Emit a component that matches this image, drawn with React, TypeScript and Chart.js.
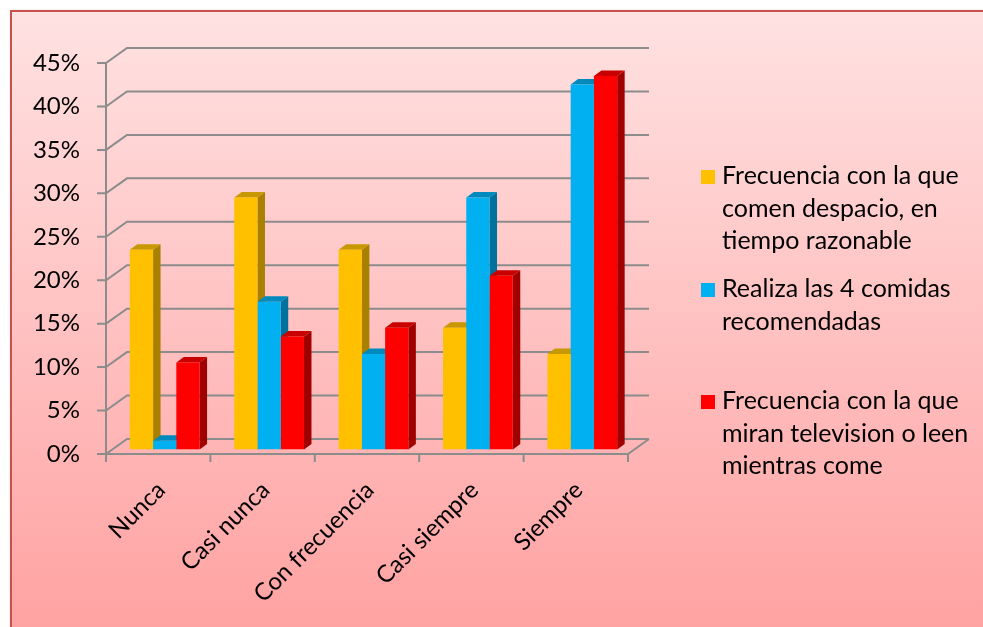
import { useEffect, useRef } from 'react';
import { Chart, registerables } from 'chart.js';

Chart.register(...registerables);

// ---- data ----
const CATEGORIES = ['Nunca', 'Casi nunca', 'Con frecuencia', 'Casi siempre', 'Siempre'];
const COMEN_DESPACIO = [23, 29, 23, 14, 11];
const CUATRO_COMIDAS = [1, 17, 11, 29, 42];
const MIRAN_TV = [10, 13, 14, 20, 43];
const SERIES_NAMES = [
  'Frecuencia con la que comen despacio, en tiempo razonable',
  'Realiza las 4 comidas recomendadas',
  'Frecuencia con la que miran television o leen mientras come',
];
const LEGEND_LINES = [
  ['Frecuencia con la que', 'comen despacio, en', 'tiempo razonable'],
  ['Realiza las 4 comidas', 'recomendadas'],
  ['Frecuencia con la que', 'miran television o leen', 'mientras come'],
];
const Y_MIN = 0;
const Y_MAX = 45;
const Y_STEP = 5;

// ---- styling ----
const FONT = 'Lato, "Open Sans", sans-serif';
const FRONT = ['#FFC000', '#00B0F0', '#FF0000'];
const TOP = ['#C89800', '#0089BC', '#C80000'];
const SIDE = ['#A98000', '#00719C', '#A00000'];
const GRID = '#8C8C8C';

// depth of the back wall relative to the front plane
const WALL_DX = 21;
const WALL_DY = -15;
// where the bars sit inside the depth, and how deep they are
const BAR_DX = 6.5;
const BAR_DY = -4.5;
const BAR_DEPTH_X = 7.5;
const BAR_DEPTH_Y = -5.5;

// legend layout: first-line baselines of each entry
const LEGEND_X = 701;
const LEGEND_TEXT_X = 722;
const LEGEND_BASELINES = [184, 297, 409];
const LEGEND_LINE_H = 32.5;

const scene3d = {
  id: 'scene3d',
  beforeDraw(chart: any) {
    const { ctx, width, height } = chart;
    ctx.save();
    ctx.fillStyle = '#ffffff';
    ctx.fillRect(0, 0, width, height);
    const g = ctx.createLinearGradient(0, 10, 0, height);
    g.addColorStop(0, '#FFE2E2');
    g.addColorStop(1, '#FFA2A2');
    ctx.shadowColor = 'rgba(0,0,0,0.25)';
    ctx.shadowBlur = 3;
    ctx.fillStyle = g;
    ctx.fillRect(11, 11, width + 20, height + 20);
    ctx.shadowColor = 'transparent';
    ctx.strokeStyle = '#C8504D';
    ctx.lineWidth = 2;
    ctx.strokeRect(11, 11, width + 20, height + 20);
    ctx.restore();
  },
  beforeDatasetsDraw(chart: any) {
    const { ctx, chartArea, scales } = chart;
    const { left, right, bottom } = chartArea;
    const ys = scales.y;

    // walls, gridlines and axes
    ctx.save();
    ctx.strokeStyle = GRID;
    ctx.lineWidth = 2;
    ctx.lineCap = 'butt';
    for (let v = Y_MIN; v <= Y_MAX; v += Y_STEP) {
      const y = ys.getPixelForValue(v);
      ctx.beginPath();
      ctx.moveTo(left - 9, y);
      ctx.lineTo(left, y);
      ctx.lineTo(left + WALL_DX, y + WALL_DY);
      ctx.lineTo(right + WALL_DX, y + WALL_DY);
      ctx.stroke();
    }
    const top = ys.getPixelForValue(Y_MAX);
    ctx.beginPath();
    ctx.moveTo(left, top);
    ctx.lineTo(left, bottom + 8);
    ctx.stroke();
    ctx.beginPath();
    ctx.moveTo(left, bottom);
    ctx.lineTo(right, bottom);
    ctx.lineTo(right + WALL_DX, bottom + WALL_DY);
    ctx.stroke();
    const n = CATEGORIES.length;
    for (let i = 1; i <= n; i++) {
      const x = left + ((right - left) * i) / n;
      ctx.beginPath();
      ctx.moveTo(x, bottom);
      ctx.lineTo(x, bottom + 8);
      ctx.stroke();
    }
    ctx.restore();

    // bars sit a little way back inside the box
    ctx.save();
    ctx.translate(BAR_DX, BAR_DY);
    chart.data.datasets.forEach((_ds: any, di: number) => {
      const meta = chart.getDatasetMeta(di);
      meta.data.forEach((bar: any) => {
        const { x, y, base, width } = bar.getProps(['x', 'y', 'base', 'width'], true);
        const l = x - width / 2;
        const r = x + width / 2;
        // side face
        ctx.fillStyle = SIDE[di];
        ctx.beginPath();
        ctx.moveTo(r, y);
        ctx.lineTo(r + BAR_DEPTH_X, y + BAR_DEPTH_Y);
        ctx.lineTo(r + BAR_DEPTH_X, base + BAR_DEPTH_Y);
        ctx.lineTo(r, base);
        ctx.closePath();
        ctx.fill();
        // top face
        ctx.fillStyle = TOP[di];
        ctx.beginPath();
        ctx.moveTo(l, y);
        ctx.lineTo(r, y);
        ctx.lineTo(r + BAR_DEPTH_X, y + BAR_DEPTH_Y);
        ctx.lineTo(l + BAR_DEPTH_X, y + BAR_DEPTH_Y);
        ctx.closePath();
        ctx.fill();
      });
    });
  },
  afterDatasetsDraw(chart: any) {
    chart.ctx.restore();
  },
  afterDraw(chart: any) {
    const { ctx } = chart;
    ctx.save();
    ctx.font = `25px ${FONT}`;
    ctx.textBaseline = 'alphabetic';
    ctx.textAlign = 'left';
    LEGEND_LINES.forEach((lines, i) => {
      const b = LEGEND_BASELINES[i];
      ctx.fillStyle = FRONT[i];
      ctx.fillRect(LEGEND_X, b - 14, 14, 14);
      ctx.fillStyle = '#000000';
      lines.forEach((t, j) => ctx.fillText(t, LEGEND_TEXT_X, b + j * LEGEND_LINE_H));
    });
    ctx.restore();
  },
};

export default function App() {
  const ref = useRef<HTMLCanvasElement | null>(null);

  useEffect(() => {
    if (!ref.current) return;
    const series = [COMEN_DESPACIO, CUATRO_COMIDAS, MIRAN_TV];
    const chart = new Chart(ref.current, {
      type: 'bar',
      data: {
        labels: CATEGORIES,
        datasets: series.map((d, i) => ({
          label: SERIES_NAMES[i],
          data: d,
          backgroundColor: FRONT[i],
          borderWidth: 0,
          categoryPercentage: 0.668,
          barPercentage: 1,
        })),
      },
      options: {
        responsive: false,
        animation: false,
        devicePixelRatio: 1,
        layout: { padding: { left: 0, top: 63, right: 355, bottom: 0 } },
        plugins: { legend: { display: false }, tooltip: { enabled: false } },
        scales: {
          x: {
            grid: { display: false, drawTicks: false },
            border: { display: false },
            ticks: {
              autoSkip: false,
              minRotation: 45,
              maxRotation: 45,
              padding: 22,
              labelOffset: 3,
              color: '#000000',
              font: { family: FONT, size: 24 },
            },
            afterFit: (s: any) => {
              s.height = 173;
            },
          },
          y: {
            min: Y_MIN,
            max: Y_MAX,
            grid: { display: false, drawTicks: false },
            border: { display: false },
            ticks: {
              stepSize: Y_STEP,
              padding: 26,
              color: '#000000',
              font: { family: FONT, size: 24 },
              callback: (v: any) => `${v}%`,
            },
            afterFit: (s: any) => {
              s.width = 106;
            },
          },
        },
      },
      plugins: [scene3d],
    });
    return () => chart.destroy();
  }, []);

  return (
    <div style={{ position: 'fixed', left: 0, top: 0, width: 983, height: 627 }}>
      <canvas ref={ref} width={983} height={627} style={{ display: 'block' }} />
    </div>
  );
}
